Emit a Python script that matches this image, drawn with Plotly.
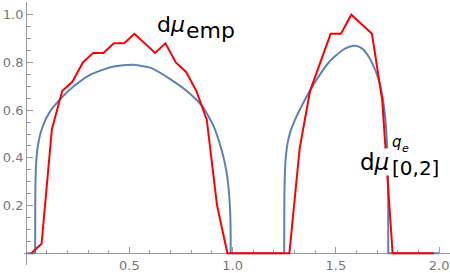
import plotly.graph_objects as go

# ---- data ----
emp_x = [0.025, 0.075, 0.125, 0.175, 0.225, 0.275, 0.325, 0.375, 0.425, 0.475,
         0.525, 0.575, 0.625, 0.675, 0.725, 0.775, 0.825, 0.875, 0.925, 0.975,
         1.025, 1.075, 1.125, 1.175, 1.225, 1.275, 1.325, 1.375, 1.425, 1.475,
         1.525, 1.575, 1.625, 1.675, 1.725, 1.775, 1.825, 1.875, 1.925, 1.975]
emp_y = [0.00, 0.04, 0.52, 0.68, 0.72, 0.80, 0.84, 0.84, 0.88, 0.88,
         0.92, 0.88, 0.84, 0.88, 0.80, 0.76, 0.68, 0.56, 0.20, 0.00,
         0.00, 0.00, 0.00, 0.00, 0.00, 0.00, 0.44, 0.68, 0.80, 0.92,
         0.92, 1.00, 0.96, 0.92, 0.64, 0.00, 0.00, 0.00, 0.00, 0.00]

dens1_x = [0.044, 0.0443, 0.0455, 0.048, 0.052, 0.058, 0.066, 0.080, 0.100, 0.125,
           0.167, 0.231, 0.312, 0.408, 0.470, 0.521, 0.601, 0.698, 0.795, 0.859,
           0.907, 0.948, 0.970, 0.982, 0.988, 0.9905, 0.991]
dens1_y = [0.000, 0.180, 0.300, 0.365, 0.415, 0.455, 0.490, 0.530, 0.570, 0.605,
           0.648, 0.700, 0.749, 0.780, 0.788, 0.790, 0.778, 0.730, 0.668, 0.610,
           0.535, 0.430, 0.345, 0.260, 0.180, 0.100, 0.000]
dens2_x = [1.250, 1.2503, 1.2515, 1.254, 1.259, 1.267, 1.280, 1.300, 1.342, 1.407,
           1.471, 1.535, 1.570, 1.600, 1.628, 1.655, 1.680, 1.705, 1.724, 1.738,
           1.746, 1.751, 1.7535, 1.754]
dens2_y = [0.000, 0.160, 0.270, 0.350, 0.415, 0.465, 0.510, 0.555, 0.630, 0.728,
           0.805, 0.853, 0.867, 0.869, 0.858, 0.830, 0.790, 0.735, 0.665, 0.580,
           0.490, 0.380, 0.230, 0.000]
zero_x = [[0.0, 0.044], [0.991, 1.250], [1.754, 2.0]]
zero_y = [0.0, 0.0]

x_ticks = [0.5, 1.0, 1.5, 2.0]
y_ticks = [0.2, 0.4, 0.6, 0.8, 1.0]

BLUE = "#5E81B5"
RED = "#FF0000"

fig = go.Figure()
for seg in zero_x:
    fig.add_trace(go.Scatter(x=seg, y=zero_y, mode="lines",
                             line=dict(color=BLUE, width=2), hoverinfo="skip"))
fig.add_trace(go.Scatter(x=dens1_x, y=dens1_y, mode="lines",
                         line=dict(color=BLUE, width=2, shape="spline", smoothing=0.5)))
fig.add_trace(go.Scatter(x=dens2_x, y=dens2_y, mode="lines",
                         line=dict(color=BLUE, width=2, shape="spline", smoothing=0.5)))
fig.add_trace(go.Scatter(x=emp_x, y=emp_y, mode="lines",
                         line=dict(color=RED, width=2)))

W, H = 450, 273
L, R, T, B = 24, 0, 2, 8
pw, ph = W - L - R, H - T - B
kx, ky = 206.5, 238.6
x0 = -(26.07 - L) / kx
x1 = x0 + pw / kx
y0 = -((H - B) - 253.3) / ky
y1 = y0 + ph / ky

def P(px, py):
    return (px - L) / pw, ((H - B) - py) / ph

AX = "#999999"
TXT = "#777777"
tickfont = dict(family="DejaVu Sans", size=13, color=TXT)

fig.update_layout(
    width=W, height=H, margin=dict(l=L, r=R, t=T, b=B, autoexpand=False),
    paper_bgcolor="white", plot_bgcolor="white", showlegend=False,
    xaxis=dict(range=[x0, x1], anchor="free", position=(0 - y0) / (y1 - y0),
               automargin=False,
               showgrid=False, zeroline=False, showline=True, linecolor=AX, linewidth=1,
               layer="below traces",
               tickvals=x_ticks, ticktext=["%.1f" % v for v in x_ticks],
               ticks="inside", ticklen=6, tickcolor=AX, tickwidth=1, tickfont=tickfont,
               minor=dict(dtick=0.1, tick0=0, ticks="inside", ticklen=3.5, tickcolor=AX)),
    yaxis=dict(range=[y0, y1], anchor="free", position=(0 - x0) / (x1 - x0),
               automargin=False,
               showgrid=False, zeroline=False, showline=True, linecolor=AX, linewidth=1,
               layer="below traces",
               tickvals=y_ticks, ticktext=["%.1f" % v for v in y_ticks],
               ticks="inside", ticklen=6, tickcolor=AX, tickwidth=1, tickfont=tickfont,
               minor=dict(dtick=0.05, tick0=0, ticks="inside", ticklen=3.5, tickcolor=AX)),
)

F = "DejaVu Sans"
def ann(text, px, py, size, bg=None, xanchor="left"):
    xp, yp = P(px, py)
    d = dict(text=text, x=xp, y=yp, xref="paper", yref="paper", xanchor=xanchor,
             yanchor="middle", showarrow=False, font=dict(family=F, size=size, color="black"),
             borderpad=0)
    if bg:
        d["bgcolor"] = bg
    fig.add_annotation(**d)

ann("d<i>μ</i>", 156, 24, 22)
ann("emp", 185, 30, 22)
ann("d<i>μ</i>", 359, 162, 23, bg="white")
ann("<i>q</i>", 391, 142, 15)
ann("<i>e</i>", 401, 148, 11)
ann("[0,2]", 391, 168, 20)

fig.write_html("out.html", config={"displayModeBar": False},
               post_script="document.body.style.margin='0px';document.body.style.overflow='hidden';")
